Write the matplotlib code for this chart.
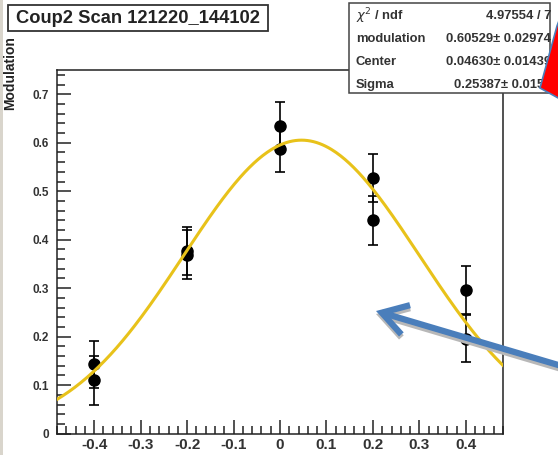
"""Coup2 scan: modulation vs position with the gaussian fit from the stats box."""
import numpy as np
import matplotlib
matplotlib.use("Agg")
import matplotlib.pyplot as plt
from matplotlib.patches import Rectangle, Polygon, FancyArrowPatch
from matplotlib.ticker import MultipleLocator, FuncFormatter

# measured points (two runs per position)
pos = [-0.4, -0.4, -0.2, -0.2, 0.0, 0.0, 0.2, 0.2, 0.4, 0.4]
modulation = [0.143, 0.110, 0.377, 0.369, 0.635, 0.588, 0.527, 0.440, 0.296, 0.196]
mod_err = [0.049, 0.050, 0.049, 0.050, 0.050, 0.049, 0.050, 0.050, 0.050, 0.049]

# fit parameters as printed in the stats box
FIT_MOD, FIT_MOD_E = 0.60529, 0.02974
FIT_CEN, FIT_CEN_E = 0.04630, 0.01439
FIT_SIG, FIT_SIG_E = 0.25387, 0.0158
CHI2, NDF = 4.97554, 7

TITLE = "Coup2 Scan 121220_144102"
W, H = 558, 455
FONT = "Liberation Sans"
YELLOW = "#e8c21a"
BLUE = "#4a7ebb"


def px(x, y):
    """pixel position in the screenshot -> figure fraction"""
    return x / W, 1 - y / H


plt.rcParams["font.family"] = [FONT, "DejaVu Sans"]
fig = plt.figure(figsize=(W / 100, H / 100), dpi=100)
fig.add_artist(Rectangle((0, 0), 3 / W, 1, transform=fig.transFigure,
                         color="#d9d5cc", lw=0))

x0, y1 = px(57, 70)
x1, y0 = px(503, 433.6)
ax = fig.add_axes([x0, y0, x1 - x0, y1 - y0])
ax.set_xlim(-0.48, 0.48)
ax.set_ylim(0, 0.75)

ax.errorbar(pos, modulation, yerr=mod_err, fmt="o", color="black",
            ms=8, elinewidth=1.2, capsize=3.5, capthick=1.2, zorder=2)
fx = np.linspace(-0.48, 0.48, 300)
fy = FIT_MOD * np.exp(-(fx - FIT_CEN) ** 2 / (2 * FIT_SIG ** 2))
ax.plot(fx, fy, color=YELLOW, lw=2.2, zorder=3)

fmt = FuncFormatter(lambda v, _: "0" if abs(v) < 1e-9 else f"{v:.1f}")
ax.xaxis.set_major_locator(MultipleLocator(0.1))
ax.xaxis.set_minor_locator(MultipleLocator(0.02))
ax.yaxis.set_major_locator(MultipleLocator(0.1))
ax.yaxis.set_minor_locator(MultipleLocator(0.02))
ax.xaxis.set_major_formatter(fmt)
ax.yaxis.set_major_formatter(fmt)
ax.tick_params(which="both", direction="in", colors="#222", width=1.1)
ax.tick_params(which="major", length=10)
ax.tick_params(which="minor", length=5.5)
ax.tick_params(axis="x", labelsize=11, pad=3)
ax.tick_params(axis="y", labelsize=8.5, pad=6)
for lbl in ax.get_xticklabels() + ax.get_yticklabels():
    lbl.set_fontweight("bold")
    lbl.set_color("#333")
for sp in ax.spines.values():
    sp.set_linewidth(1.1)
    sp.set_color("#222")

fig.text(*px(10, 73), "Modulation", rotation=90, ha="center", va="center",
         fontsize=10, fontweight="bold", color="#222")

# title box
bx, by = px(8, 31)
bx2, by2 = px(268, 5)
fig.add_artist(Rectangle((bx, by), bx2 - bx, by2 - by, transform=fig.transFigure,
                         fc="white", ec="#333", lw=1.3, zorder=5))
fig.text(*px(138, 18.5), TITLE, ha="center", va="center", fontsize=13.2,
         fontweight="bold", color="#222", zorder=6)

# stats box
sx, sy = px(349, 93)
sx2, sy2 = px(550, 3)
fig.add_artist(Rectangle((sx, sy), sx2 - sx, sy2 - sy, transform=fig.transFigure,
                         fc="white", ec="#444", lw=1.1, zorder=5))
rows = [(r"$\chi^{2}$ / ndf", f"{CHI2:.5f} / {NDF}"),
        ("modulation", f"{FIT_MOD:.5f}\u00b1 {FIT_MOD_E:.5f}"),
        ("Center", f"{FIT_CEN:.5f}\u00b1 {FIT_CEN_E:.5f}"),
        ("Sigma", f"{FIT_SIG:.5f}\u00b1 {FIT_SIG_E:.4f}")]
for i, (name, val) in enumerate(rows):
    yy = 16 + i * 23
    fig.text(*px(356, yy), name, ha="left", va="center", fontsize=9.4,
             fontweight="bold", color="#333", zorder=6)
    fig.text(*px(551, yy), val, ha="right", va="center", fontsize=9.4,
             fontweight="bold", color="#333", zorder=6)

# slide overlays: red arrow head (cut by the frame) and blue pointer arrow
fig.add_artist(Polygon([px(557, 26), px(540, 88), px(560, 99), px(560, 18)],
                       closed=True, transform=fig.transFigure, fc="#ff0000",
                       ec=BLUE, lw=1.2, zorder=7))
for dy, col in ((3, "#b8b8b8"), (0, BLUE)):
    fig.add_artist(FancyArrowPatch(
        px(565, 367 + dy), px(376, 311 + dy), transform=fig.transFigure,
        arrowstyle="->,head_length=0.9,head_width=0.55", mutation_scale=20,
        lw=4.5, color=col, zorder=7, shrinkA=0, shrinkB=0,
        joinstyle="miter", capstyle="butt"))

fig.savefig("out.png", dpi=100)
